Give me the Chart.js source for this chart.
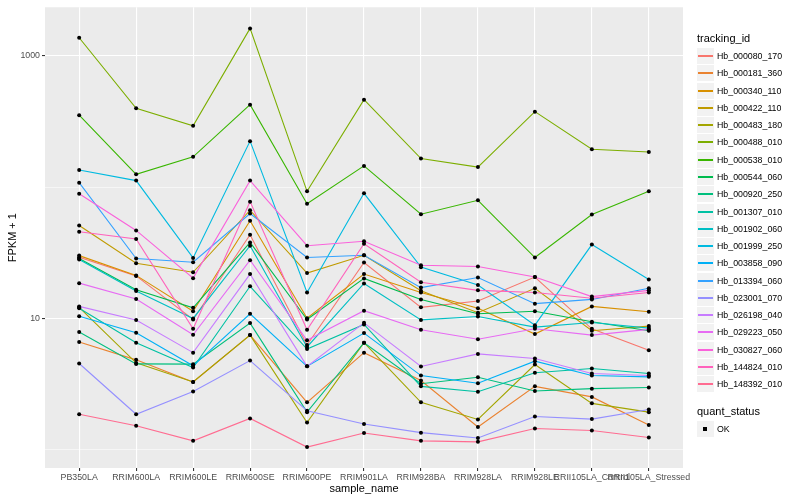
<!DOCTYPE html>
<html>
<head>
<meta charset="utf-8">
<script src="https://cdn.jsdelivr.net/npm/chart.js@4.4.1/dist/chart.umd.min.js"></script>
<style>
  body { margin: 0; background: #fff; font-family: "Liberation Sans", Arial, sans-serif; }
  #wrap { position: relative; width: 800px; height: 500px; }
  #chart { position: absolute; left: 0; top: 0; }
  #legend { position: absolute; left: 697px; top: 0; width: 103px; height: 500px; color: #000; }
  .lgTitle { position: absolute; left: 0; font-size: 11px; line-height: 13px; white-space: nowrap; }
  .key { position: absolute; left: 0; width: 17px; height: 16px; background: #F2F2F2; }
  .key .ln { position: absolute; left: 1px; width: 15px; top: 7px; height: 1.6px; }
  .key .dot { position: absolute; left: 6px; top: 6px; width: 4px; height: 4px; background: #000; }
  .lab { position: absolute; left: 20px; font-size: 8.8px; line-height: 16px; white-space: nowrap; }
</style>
</head>
<body>
<div id="wrap">
  <canvas id="chart" width="800" height="500"></canvas>
  <div id="legend"></div>
</div>
<script>
// categories (x axis)
const samples = ['PB350LA', 'RRIM600LA', 'RRIM600LE', 'RRIM600SE', 'RRIM600PE', 'RRIM901LA',
                 'RRIM928BA', 'RRIM928LA', 'RRIM928LE', 'RRII105LA_Control', 'RRII105LA_Stressed'];

const trackingIds = ['Hb_000080_170', 'Hb_000181_360', 'Hb_000340_110', 'Hb_000422_110', 'Hb_000483_180',
                     'Hb_000488_010', 'Hb_000538_010', 'Hb_000544_060', 'Hb_000920_250', 'Hb_001307_010',
                     'Hb_001902_060', 'Hb_001999_250', 'Hb_003858_090', 'Hb_013394_060', 'Hb_023001_070',
                     'Hb_026198_040', 'Hb_029223_050', 'Hb_030827_060', 'Hb_144824_010', 'Hb_148392_010'];

// FPKM + 1, one array per tracking_id, in the order of samples
const hb000080_170 = [29.1, 21.0, 9.77, 43.3, 6.24, 26.6, 12.1, 13.5, 20.6, 8.3, 5.69];
const hb000181_360 = [6.58, 4.81, 3.26, 7.43, 2.28, 5.46, 3.35, 1.48, 3.02, 2.51, 1.53];
const hb000340_110 = [30.0, 21.2, 11.3, 55.3, 10.0, 21.7, 15.7, 11.9, 7.56, 12.3, 11.2];
const hb000422_110 = [50.9, 26.2, 22.4, 66.6, 22.1, 30.2, 16.2, 11.0, 16.9, 8.01, 8.70];
const hb000483_180 = [12.1, 4.56, 3.26, 7.43, 1.60, 6.50, 2.28, 1.69, 4.43, 2.24, 1.92];
const hb000488_010 = [1376, 399, 293, 1621, 92.8, 464, 165, 142, 376, 194, 185];
const hb000538_010 = [353, 125, 170, 425, 74.7, 145, 62.1, 79.3, 29.0, 61.7, 92.8];
const hb000544_060 = [28.5, 16.5, 12.0, 37.8, 9.77, 20.1, 13.9, 10.8, 11.3, 9.38, 8.01];
const hb000920_250 = [7.83, 4.48, 4.46, 9.17, 1.92, 6.50, 3.16, 3.54, 2.78, 2.90, 2.96];
const hb001307_010 = [11.9, 6.50, 4.20, 17.5, 5.82, 8.96, 3.02, 2.75, 3.83, 4.13, 3.78];
const hb001902_060 = [28.0, 16.1, 9.95, 35.7, 6.03, 18.4, 9.70, 10.3, 8.55, 9.28, 8.40];
const hb001999_250 = [135, 112, 28.8, 224, 15.7, 89.6, 24.5, 17.9, 8.85, 36.4, 19.7];
const hb003858_090 = [10.35, 7.74, 4.33, 10.8, 4.29, 7.70, 3.65, 3.19, 4.70, 3.65, 3.57];
const hb013394_060 = [108, 28.5, 26.7, 62.8, 29.0, 30.2, 17.1, 20.4, 12.9, 13.9, 16.9];
const hb023001_070 = [4.51, 1.85, 2.76, 4.75, 1.97, 1.56, 1.34, 1.22, 1.78, 1.70, 2.01];
const hb026198_040 = [12.3, 9.70, 5.46, 21.7, 4.29, 9.21, 4.28, 5.34, 4.92, 3.78, 3.65];
const hb029223_050 = [18.5, 14.0, 7.47, 27.7, 6.78, 11.4, 8.15, 6.90, 8.30, 7.43, 8.21];
const hb030827_060 = [89.0, 46.7, 20.2, 112, 35.7, 38.6, 25.3, 24.8, 20.6, 14.6, 16.3];
const hb144824_010 = [45.6, 40.2, 8.30, 77.4, 8.15, 37.0, 18.8, 16.3, 15.7, 14.2, 15.7];
const hb148392_010 = [1.85, 1.51, 1.16, 1.72, 1.04, 1.33, 1.16, 1.14, 1.44, 1.39, 1.23];

const series = [hb000080_170, hb000181_360, hb000340_110, hb000422_110, hb000483_180,
                hb000488_010, hb000538_010, hb000544_060, hb000920_250, hb001307_010,
                hb001902_060, hb001999_250, hb003858_090, hb013394_060, hb023001_070,
                hb026198_040, hb029223_050, hb030827_060, hb144824_010, hb148392_010];

// y axis breaks, labelled ones are the majors
const yBreaks = [1, 10, 100, 1000];
const yLabelled = [10, 1000];

// ggplot default hue palette for 20 groups
const colors = ['#F8766D', '#EA8331', '#D89000', '#C09B00', '#A3A500', '#7CAE00', '#39B600', '#00BB4E',
                '#00BF7D', '#00C1A3', '#00BFC4', '#00BAE0', '#00B0F6', '#35A2FF', '#9590FF', '#C77CFF',
                '#E76BF3', '#FA62DB', '#FF62BC', '#FF6C91'];

const FONT = '"Liberation Sans", Arial, sans-serif';

// grey panel behind the grid
const panelBg = {
  id: 'panelBg',
  beforeDraw(chart) {
    const { ctx, chartArea: a } = chart;
    ctx.save();
    ctx.fillStyle = '#EBEBEB';
    ctx.fillRect(a.left, a.top, a.right - a.left, a.bottom - a.top);
    ctx.restore();
  }
};

const datasets = series.map((vals, i) => ({
  label: trackingIds[i],
  data: vals.map((v, j) => ({ x: j, y: v })),
  borderColor: colors[i],
  borderWidth: 1.1,
  pointRadius: 0,
  fill: false,
  tension: 0,
  order: series.length - i
}));

// all points, black, drawn on top (quant_status = OK)
let allPts = [];
series.forEach(vals => vals.forEach((v, j) => allPts.push({ x: j, y: v })));
datasets.push({
  label: 'OK',
  data: allPts,
  showLine: false,
  pointRadius: 2,
  pointBackgroundColor: '#000',
  pointBorderWidth: 0,
  order: 0
});

const isMajor = v => yLabelled.includes(v);

new Chart(document.getElementById('chart'), {
  type: 'line',
  data: { datasets: datasets },
  plugins: [panelBg],
  options: {
    responsive: false,
    animation: false,
    layout: { padding: { left: 0, top: 5, right: 117, bottom: 0 } },
    plugins: { legend: { display: false }, tooltip: { enabled: false } },
    scales: {
      x: {
        type: 'linear',
        min: -0.6,
        max: 10.6,
        bounds: 'data',
        afterBuildTicks: s => { s.ticks = samples.map((_, i) => ({ value: i })); },
        afterFit: s => { s.height = 32; },
        ticks: {
          callback: v => samples[v] ?? '',
          autoSkip: false, maxRotation: 0, minRotation: 0,
          color: '#4D4D4D', font: { family: FONT, size: 8.8 }, padding: 1
        },
        grid: { color: '#FFFFFF', lineWidth: 1.1, tickColor: '#333333', tickLength: 3 },
        border: { display: false },
        title: { display: true, text: 'sample_name', color: '#000', font: { family: FONT, size: 11 }, padding: { top: 0, bottom: 4 } }
      },
      y: {
        type: 'logarithmic',
        min: 0.72,
        max: 2350,
        bounds: 'data',
        afterBuildTicks: s => { s.ticks = yBreaks.map(v => ({ value: v })); },
        afterFit: s => { s.width = 45; },
        ticks: {
          callback: v => isMajor(v) ? String(v) : '',
          autoSkip: false,
          color: '#4D4D4D', font: { family: FONT, size: 8.8 }, padding: 2
        },
        grid: {
          color: '#FFFFFF',
          lineWidth: c => isMajor(c.tick && c.tick.value) ? 1.1 : 0.55,
          tickColor: c => isMajor(c.tick && c.tick.value) ? '#333333' : 'rgba(0,0,0,0)',
          tickLength: 3
        },
        border: { display: false },
        title: { display: true, text: 'FPKM + 1', color: '#000', font: { family: FONT, size: 11 }, padding: { top: 6, bottom: 2 } }
      }
    }
  }
});

// ggplot style legend on the right
const lg = document.getElementById('legend');
let html = '<div class="lgTitle" style="top:32px">tracking_id</div>';
trackingIds.forEach((id, i) => {
  const top = Math.round(48 + i * 17.28);
  html += `<div class="key" style="top:${top}px"><div class="ln" style="background:${colors[i]}"></div></div>`;
  html += `<div class="lab" style="top:${top}px">${id}</div>`;
});
html += '<div class="lgTitle" style="top:405px">quant_status</div>';
html += '<div class="key" style="top:421px"><div class="dot"></div></div>';
html += '<div class="lab" style="top:421px">OK</div>';
lg.innerHTML = html;
</script>
</body>
</html>
